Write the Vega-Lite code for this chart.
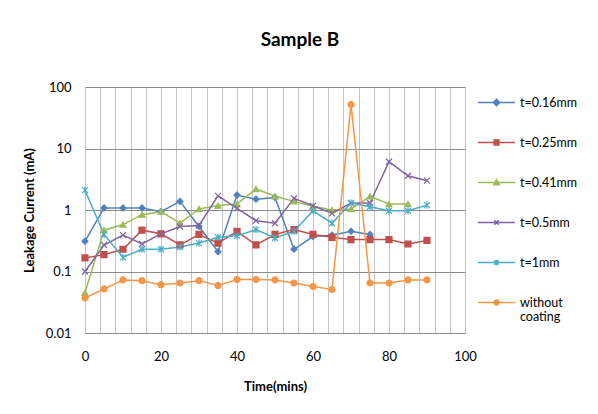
{
  "$schema": "https://vega.github.io/schema/vega-lite/v6.json",
  "width": 380,
  "height": 246,
  "autosize": {"type": "none"},
  "padding": {"left": 85, "top": 87, "right": 133, "bottom": 81},
  "background": "white",
  "title": {"text": "Sample B", "anchor": "middle", "frame": "group", "dx": 25, "offset": 31, "font": "Lato", "fontSize": 19, "fontWeight": "bold", "color": "black"},
  "config": {
    "view": {"stroke": "#8c8c8c", "strokeWidth": 1},
    "axis": {"labelFont": "Lato", "labelFontSize": 13, "labelColor": "black", "titleFont": "Lato", "titleFontSize": 13, "titleFontWeight": "bold", "titleColor": "black", "domain": false, "ticks": false},
    "legend": {"labelFont": "Lato", "labelFontSize": 12.5, "labelColor": "black"}
  },
  "data": {"values": [
    {"series": "t=0.16mm", "t": 0, "v": 0.31},
    {"series": "t=0.16mm", "t": 5, "v": 1.08},
    {"series": "t=0.16mm", "t": 10, "v": 1.08},
    {"series": "t=0.16mm", "t": 15, "v": 1.08},
    {"series": "t=0.16mm", "t": 20, "v": 0.94},
    {"series": "t=0.16mm", "t": 25, "v": 1.38},
    {"series": "t=0.16mm", "t": 30, "v": 0.54},
    {"series": "t=0.16mm", "t": 35, "v": 0.21},
    {"series": "t=0.16mm", "t": 40, "v": 1.75},
    {"series": "t=0.16mm", "t": 45, "v": 1.5},
    {"series": "t=0.16mm", "t": 50, "v": 1.6},
    {"series": "t=0.16mm", "t": 55, "v": 0.23},
    {"series": "t=0.16mm", "t": 60, "v": 0.37},
    {"series": "t=0.16mm", "t": 65, "v": 0.39},
    {"series": "t=0.16mm", "t": 70, "v": 0.45},
    {"series": "t=0.16mm", "t": 75, "v": 0.4},
    {"series": "t=0.25mm", "t": 0, "v": 0.166},
    {"series": "t=0.25mm", "t": 5, "v": 0.188},
    {"series": "t=0.25mm", "t": 10, "v": 0.23},
    {"series": "t=0.25mm", "t": 15, "v": 0.47},
    {"series": "t=0.25mm", "t": 20, "v": 0.41},
    {"series": "t=0.25mm", "t": 25, "v": 0.27},
    {"series": "t=0.25mm", "t": 30, "v": 0.4},
    {"series": "t=0.25mm", "t": 35, "v": 0.29},
    {"series": "t=0.25mm", "t": 40, "v": 0.45},
    {"series": "t=0.25mm", "t": 45, "v": 0.27},
    {"series": "t=0.25mm", "t": 50, "v": 0.4},
    {"series": "t=0.25mm", "t": 55, "v": 0.48},
    {"series": "t=0.25mm", "t": 60, "v": 0.4},
    {"series": "t=0.25mm", "t": 65, "v": 0.36},
    {"series": "t=0.25mm", "t": 70, "v": 0.33},
    {"series": "t=0.25mm", "t": 75, "v": 0.33},
    {"series": "t=0.25mm", "t": 80, "v": 0.33},
    {"series": "t=0.25mm", "t": 85, "v": 0.28},
    {"series": "t=0.25mm", "t": 90, "v": 0.32},
    {"series": "t=0.41mm", "t": 0, "v": 0.045},
    {"series": "t=0.41mm", "t": 5, "v": 0.47},
    {"series": "t=0.41mm", "t": 10, "v": 0.58},
    {"series": "t=0.41mm", "t": 15, "v": 0.84},
    {"series": "t=0.41mm", "t": 20, "v": 0.94},
    {"series": "t=0.41mm", "t": 25, "v": 0.61},
    {"series": "t=0.41mm", "t": 30, "v": 1.04},
    {"series": "t=0.41mm", "t": 35, "v": 1.18},
    {"series": "t=0.41mm", "t": 40, "v": 1.25},
    {"series": "t=0.41mm", "t": 45, "v": 2.2},
    {"series": "t=0.41mm", "t": 50, "v": 1.67},
    {"series": "t=0.41mm", "t": 55, "v": 1.38},
    {"series": "t=0.41mm", "t": 60, "v": 1.15},
    {"series": "t=0.41mm", "t": 65, "v": 1.0},
    {"series": "t=0.41mm", "t": 70, "v": 1.04},
    {"series": "t=0.41mm", "t": 75, "v": 1.67},
    {"series": "t=0.41mm", "t": 80, "v": 1.25},
    {"series": "t=0.41mm", "t": 85, "v": 1.25},
    {"series": "t=0.5mm", "t": 0, "v": 0.1},
    {"series": "t=0.5mm", "t": 5, "v": 0.27},
    {"series": "t=0.5mm", "t": 10, "v": 0.39},
    {"series": "t=0.5mm", "t": 15, "v": 0.28},
    {"series": "t=0.5mm", "t": 20, "v": 0.41},
    {"series": "t=0.5mm", "t": 25, "v": 0.54},
    {"series": "t=0.5mm", "t": 30, "v": 0.56},
    {"series": "t=0.5mm", "t": 35, "v": 1.7},
    {"series": "t=0.5mm", "t": 40, "v": 1.06},
    {"series": "t=0.5mm", "t": 45, "v": 0.67},
    {"series": "t=0.5mm", "t": 50, "v": 0.61},
    {"series": "t=0.5mm", "t": 55, "v": 1.55},
    {"series": "t=0.5mm", "t": 60, "v": 1.17},
    {"series": "t=0.5mm", "t": 65, "v": 0.88},
    {"series": "t=0.5mm", "t": 70, "v": 1.3},
    {"series": "t=0.5mm", "t": 75, "v": 1.3},
    {"series": "t=0.5mm", "t": 80, "v": 6.1},
    {"series": "t=0.5mm", "t": 85, "v": 3.6},
    {"series": "t=0.5mm", "t": 90, "v": 3.0},
    {"series": "t=1mm", "t": 0, "v": 2.1},
    {"series": "t=1mm", "t": 5, "v": 0.4},
    {"series": "t=1mm", "t": 10, "v": 0.17},
    {"series": "t=1mm", "t": 15, "v": 0.23},
    {"series": "t=1mm", "t": 20, "v": 0.23},
    {"series": "t=1mm", "t": 25, "v": 0.25},
    {"series": "t=1mm", "t": 30, "v": 0.29},
    {"series": "t=1mm", "t": 35, "v": 0.36},
    {"series": "t=1mm", "t": 40, "v": 0.38},
    {"series": "t=1mm", "t": 45, "v": 0.48},
    {"series": "t=1mm", "t": 50, "v": 0.35},
    {"series": "t=1mm", "t": 55, "v": 0.45},
    {"series": "t=1mm", "t": 60, "v": 0.97},
    {"series": "t=1mm", "t": 65, "v": 0.61},
    {"series": "t=1mm", "t": 70, "v": 1.3},
    {"series": "t=1mm", "t": 75, "v": 1.13},
    {"series": "t=1mm", "t": 80, "v": 0.97},
    {"series": "t=1mm", "t": 85, "v": 0.97},
    {"series": "t=1mm", "t": 90, "v": 1.2},
    {"series": "without coating", "t": 0, "v": 0.037},
    {"series": "without coating", "t": 5, "v": 0.052},
    {"series": "without coating", "t": 10, "v": 0.073},
    {"series": "without coating", "t": 15, "v": 0.071},
    {"series": "without coating", "t": 20, "v": 0.061},
    {"series": "without coating", "t": 25, "v": 0.065},
    {"series": "without coating", "t": 30, "v": 0.071},
    {"series": "without coating", "t": 35, "v": 0.059},
    {"series": "without coating", "t": 40, "v": 0.074},
    {"series": "without coating", "t": 45, "v": 0.074},
    {"series": "without coating", "t": 50, "v": 0.073},
    {"series": "without coating", "t": 55, "v": 0.065},
    {"series": "without coating", "t": 60, "v": 0.057},
    {"series": "without coating", "t": 65, "v": 0.051},
    {"series": "without coating", "t": 70, "v": 51.7},
    {"series": "without coating", "t": 75, "v": 0.065},
    {"series": "without coating", "t": 80, "v": 0.065},
    {"series": "without coating", "t": 85, "v": 0.073},
    {"series": "without coating", "t": 90, "v": 0.073}
  ]},
  "encoding": {
    "x": {"field": "t", "type": "quantitative", "scale": {"domain": [0, 100], "nice": false, "zero": false},
      "axis": {"title": "Time(mins)", "values": [0,4,8,12,16,20,24,28,32,36,40,44,48,52,56,60,64,68,72,76,80,84,88,92,96,100], "labelExpr": "datum.value % 20 == 0 ? datum.label : ''", "labelPadding": 17, "titlePadding": 17, "gridColor": "#c4c4c4", "gridWidth": 1, "labelFlush": false}},
    "y": {"field": "v", "type": "quantitative", "scale": {"type": "log", "domain": [0.01, 100], "nice": false},
      "axis": {"title": "Leakage Current (mA)", "values": [0.01, 0.1, 1, 10, 100], "format": "~g", "labelPadding": 14, "titlePadding": 9, "gridColor": "#8c8c8c", "gridWidth": 1}},
    "color": {"field": "series", "type": "nominal", "scale": {"domain": ["t=0.16mm","t=0.25mm","t=0.41mm","t=0.5mm","t=1mm","without coating"], "range": ["#4F81BD","#C0504D","#9BBB59","#8064A2","#4BACC6","#F79646"]},
      "legend": {"title": null, "orient": "none", "legendX": 392, "legendY": -4, "symbolSize": 1370, "rowPadding": 14, "labelOffset": 4, "symbolStrokeWidth": 1.5, "labelLimit": 200,
        "labelExpr": "datum.label == 'without coating' ? ['without', 'coating'] : datum.label",
        "encode": {"symbols": {"update": {
          "fill": {"signal": "scale('color', datum.value)"},
          "stroke": {"signal": "scale('color', datum.value)"},
          "strokeWidth": {"value": 1.5},
          "opacity": {"value": 1},
          "shape": {"signal": "datum.value == 't=0.16mm' ? 'M-1,0H1M0,-0.17L0.17,0L0,0.17L-0.17,0Z' : datum.value == 't=0.25mm' ? 'M-1,0H1M-0.13,-0.13H0.13V0.13H-0.13Z' : datum.value == 't=0.41mm' ? 'M-1,0H1M0,-0.15L0.15,0.12L-0.15,0.12Z' : datum.value == 't=0.5mm' ? 'M-1,0H1M-0.12,-0.12L0.12,0.12M-0.12,0.12L0.12,-0.12' : datum.value == 't=1mm' ? 'M-1,0H1M-0.12,-0.12L0.12,0.12M-0.12,0.12L0.12,-0.12M0,-0.15V0.15' : 'M-1,0H1M-0.13,0A0.13,0.13,0,1,0,0.13,0A0.13,0.13,0,1,0,-0.13,0Z'"}
        }}}}
    }
  },
  "layer": [
    {
      "mark": {"type": "line", "strokeWidth": 1.5}
    },
    {
      "mark": {"type": "point", "filled": true, "opacity": 1, "size": 36, "strokeWidth": 1.2,
        "stroke": {"expr": "scale('color', datum.series)"},
        "shape": {"expr": "datum.series == 't=0.16mm' ? 'diamond' : datum.series == 't=0.25mm' ? 'square' : datum.series == 't=0.41mm' ? 'triangle-up' : datum.series == 't=0.5mm' ? 'M-1,-1L1,1M-1,1L1,-1' : datum.series == 't=1mm' ? 'M-1,-1L1,1M-1,1L1,-1M0,-1.2L0,1.2' : 'circle'"}}
    }
  ]
}
